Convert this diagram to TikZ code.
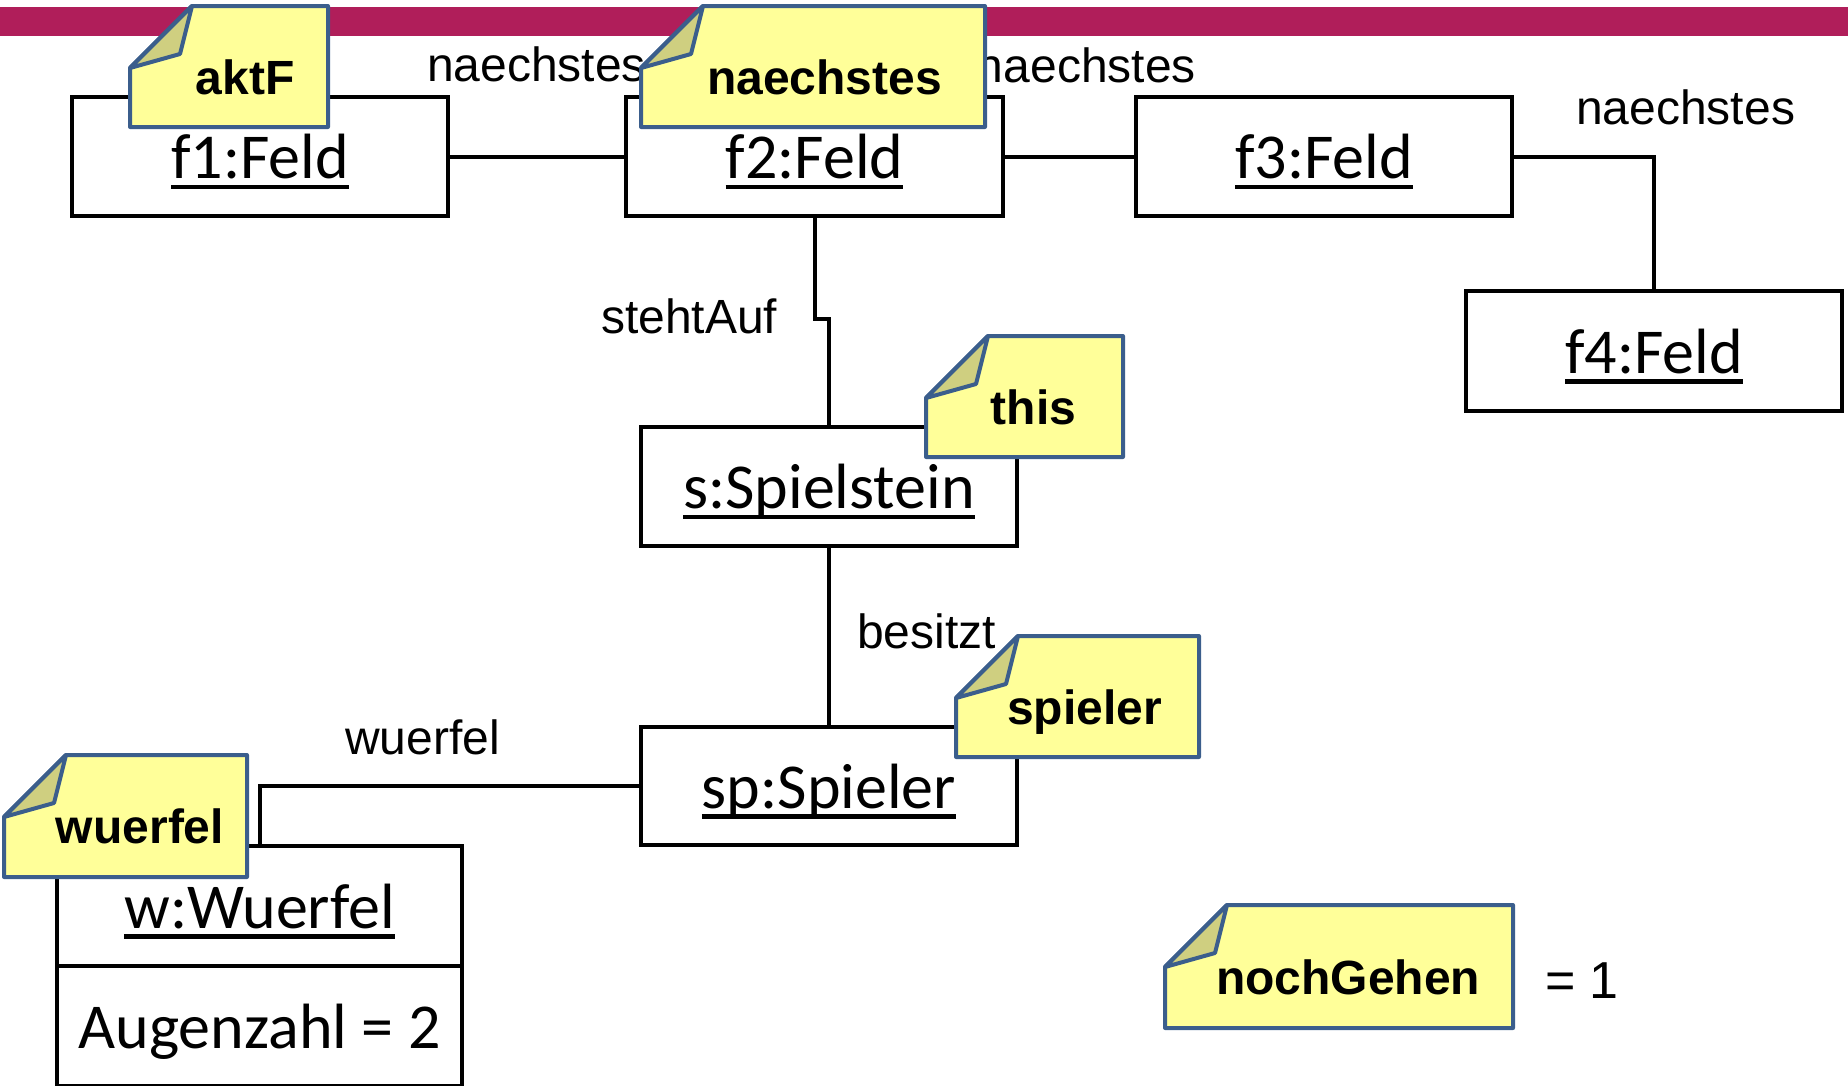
\documentclass[tikz,border=0pt]{standalone}
\usepackage{fontspec}
\setmainfont{Liberation Sans}
\newfontfamily\calfont{Carlito}
\newcommand\objul[1]{\setbox0=\hbox{#1}\rlap{\vrule height -0.095em depth 0.165em width \wd0}\box0}
\definecolor{bandcol}{RGB}{176,30,90}
\definecolor{notefill}{RGB}{255,255,153}
\definecolor{noteline}{RGB}{59,94,140}
\definecolor{noteflapcol}{RGB}{207,207,128}
\tikzset{
  objbox/.style={draw, line width=4pt, fill=white, inner sep=0pt,
    text height=55pt, text depth=11pt,
    font=\calfont\fontsize{64}{70}\selectfont},
  conn/.style={line width=4pt},
  lab/.style={inner sep=0pt, anchor=base west, font=\fontsize{48}{52}\selectfont},
  notebody/.style={fill=notefill, draw=noteline, line width=4pt, line join=round},
  noteflap/.style={fill=noteflapcol, draw=noteline, line width=4pt, line join=round},
  notetext/.style={inner sep=0pt, anchor=base, font=\bfseries\fontsize{48}{52}\selectfont},
  pics/umlnote/.style n args={4}{code={
    \filldraw[notebody] (0,62) -- (62,0) -- (#1,0) -- (#1,#2) -- (0,#2) -- cycle;
    \filldraw[noteflap] (0,62) -- (62,0) -- (50,48) -- cycle;
    \node[notetext] (-t) at (#1/2+#3, #2/2+27.5) {#4};
  }}
}
\begin{document}
\begin{tikzpicture}[x=1pt, y=-1pt]
\useasboundingbox (0,0) rectangle (1848,1085);
\clip (0,0) rectangle (1848,1085);
% top band
\fill[bandcol] (0,7) rectangle (1848,36);
% object boxes
\node[objbox, minimum width=376pt, minimum height=119pt] (f1) at (260,156.5) {\objul{f1:Feld}};
\node[objbox, minimum width=377pt, minimum height=119pt] (f2) at (814.5,156.5) {\objul{f2:Feld}};
\node[objbox, minimum width=376pt, minimum height=119pt] (f3) at (1324,156.5) {\objul{f3:Feld}};
\node[objbox, minimum width=376pt, minimum height=120pt] (f4) at (1654,351) {\objul{f4:Feld}};
\node[objbox, minimum width=376pt, minimum height=119pt] (s) at (829,486.5) {\objul{s:Spielstein}};
\node[objbox, minimum width=376pt, minimum height=118pt] (sp) at (829,786) {\objul{sp:Spieler}};
\node[objbox, minimum width=405pt, minimum height=120pt] (w) at (259.5,906) {\objul{w:Wuerfel}};
\node[objbox, minimum width=405pt, minimum height=120pt] (wattr) at (259.5,1026) {Augenzahl = 2};
% connectors
\draw[conn] (f1.east) -- (f2.west);
\draw[conn] (f2.east) -- (f3.west);
\draw[conn] (f3.east) -| (f4.north);
\coordinate (bend) at (829,319);
\draw[conn] (f2.south) |- (bend) -- (s.north);
\draw[conn] (s.south) -- (sp.north);
\draw[conn] (sp.west) -| (w.north);
% connector labels
\node[lab] (l1) at (427,81.5) {naechstes};
\node[lab, anchor=base east] (l2) at (1196,82.5) {naechstes};
\node[lab] (l3) at (1576,124.5) {naechstes};
\node[lab] (l4) at (601,333.5) {stehtAuf};
\node[lab] (l5) at (857,648.5) {besitzt};
\node[lab] (l6) at (345,754.5) {wuerfel};
\node[lab, font=\fontsize{52}{56}\selectfont] (eq) at (1545,998) {= 1};
% notes
\pic (aktFN) at (130,6) {umlnote={198}{121}{16}{aktF}};
\pic (naechstesN) at (641,6) {umlnote={344}{121}{11.5}{naechstes}};
\pic (thisN) at (926,336) {umlnote={197}{121}{9}{this}};
\pic (spielerN) at (956,636) {umlnote={243}{121}{7}{spieler}};
\pic (wuerfelN) at (4,755) {umlnote={243}{122}{14.5}{wuerfel}};
\pic (nochN) at (1165,905) {umlnote={348}{123}{9}{nochGehen}};
\end{tikzpicture}
\end{document}
